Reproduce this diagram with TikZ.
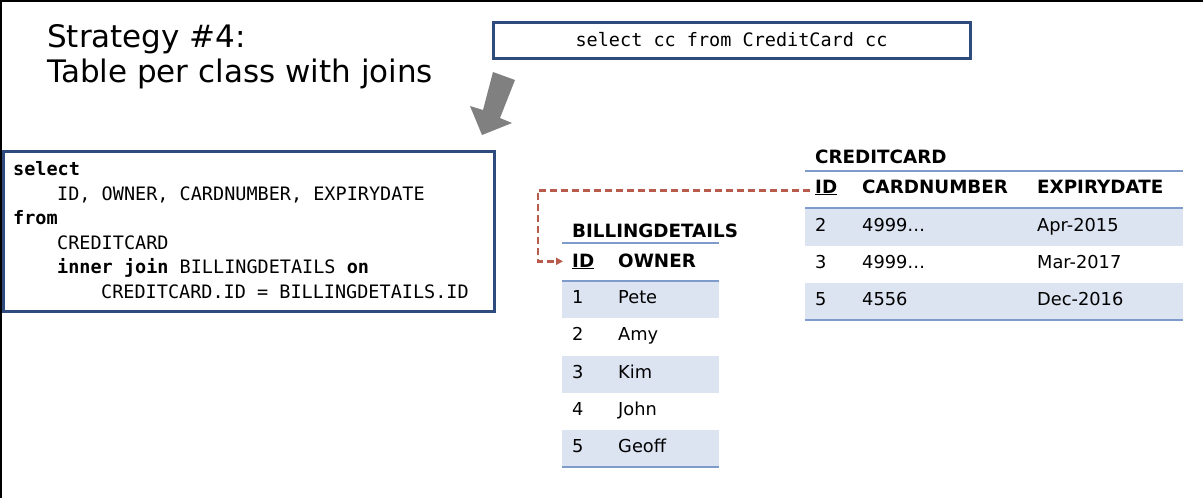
\documentclass[tikz,border=0pt]{standalone}
\usepackage{fontspec}
\setmainfont{DejaVu Sans}
\setmonofont{DejaVu Sans Mono}
\usepackage{tikz}
\usetikzlibrary{positioning, arrows.meta}
\usepackage{xcolor}

\definecolor{framecol}{HTML}{2F4A7C}
\definecolor{rulecol}{HTML}{7F9BCC}
\definecolor{rowcol}{HTML}{DCE3F1}
\definecolor{keycol}{HTML}{B85A4C}
\definecolor{pointcol}{HTML}{808080}

\tikzset{
  heading/.style={anchor=base west, inner sep=0pt, font=\fontsize{31}{35}\selectfont},
  code/.style={anchor=base west, inner sep=0pt, font=\ttfamily\fontsize{18.5}{24}\selectfont},
  cell/.style={anchor=base west, inner sep=0pt, font=\fontsize{17.8}{20}\selectfont},
  colhead/.style={anchor=base west, inner sep=0pt, font=\bfseries\fontsize{18.3}{20}\selectfont},
  codebox/.style={draw=framecol, line width=3pt, inner sep=0pt},
  thinrule/.style={draw=rulecol, line width=1.3pt},
  thickrule/.style={draw=rulecol, line width=2pt},
  shaded/.style={fill=rowcol, draw=none},
  fkarrow/.style={draw=keycol, line width=2.7pt, dash pattern=on 7pt off 4pt,
    -{Triangle[length=7pt, width=7pt]}}
}

\begin{document}
\begin{tikzpicture}[x=1pt, y=-1pt]
\useasboundingbox (0,0) rectangle (1203,498);
\draw[line width=2pt] (1,498) -- (1,1) -- (1203,1);

% Title
\node[heading] (title1) at (47,47) {Strategy \#4:};
\node[heading] (title2) at (47,82) {Table per class with joins};

% JPQL query
\node[codebox, minimum width=477pt, minimum height=36pt,
  font=\ttfamily\fontsize{18.5}{24}\selectfont] (query) at (731.5,40)
  {select cc from CreditCard cc};

% Pointer arrow
\fill[pointcol] (493,72) -- (515,80) -- (500,118) -- (512,123)
  -- (482,135) -- (470,106) -- (483,110) -- cycle;

% Generated SQL
\node[codebox, anchor=north west, minimum width=491pt, minimum height=160pt] (sqlbox) at (2,150) {};
\node[code] (sql1) at (13,175) {\textbf{select}};
\node[code] (sql2) at (57,200) {ID, OWNER, CARDNUMBER, EXPIRYDATE};
\node[code] (sql3) at (13,224) {\textbf{from}};
\node[code] (sql4) at (57,249) {CREDITCARD};
\node[code] (sql5) at (57,273) {\textbf{inner join} BILLINGDETAILS \textbf{on}};
\node[code] (sql6) at (101,298) {CREDITCARD.ID = BILLINGDETAILS.ID};

% BILLINGDETAILS table
\fill[shaded] (562,281) rectangle (719,318);
\fill[shaded] (562,356) rectangle (719,393);
\fill[shaded] (562,430) rectangle (719,467);
\draw[thinrule] (562,243) -- (719,243);
\draw[thickrule] (562,281) -- (719,281);
\draw[thickrule] (562,467) -- (719,467);
\node[colhead] (bdtitle) at (572,237) {BILLINGDETAILS};
\node[colhead] (bdid) at (572,267) {\underline{ID}};
\node[colhead] (bdowner) at (618,267) {OWNER};
\node[cell] (bd1) at (572,303) {1}; \node[cell] (bdo1) at (618,303) {Pete};
\node[cell] (bd2) at (572,340) {2}; \node[cell] (bdo2) at (618,340) {Amy};
\node[cell] (bd3) at (572,378) {3}; \node[cell] (bdo3) at (618,378) {Kim};
\node[cell] (bd4) at (572,415) {4}; \node[cell] (bdo4) at (618,415) {John};
\node[cell] (bd5) at (572,452) {5}; \node[cell] (bdo5) at (618,452) {Geoff};

% CREDITCARD table
\fill[shaded] (805,208) rectangle (1183,246);
\fill[shaded] (805,283) rectangle (1183,320);
\draw[thinrule] (805,171) -- (1183,171);
\draw[thickrule] (805,208) -- (1183,208);
\draw[thickrule] (805,320) -- (1183,320);
\node[colhead] (cctitle) at (815,163) {CREDITCARD};
\node[colhead] (ccid) at (815,193) {\underline{ID}};
\node[colhead] (ccnum) at (862,193) {CARDNUMBER};
\node[colhead] (ccexp) at (1037,193) {EXPIRYDATE};
\node[cell] (cc1) at (815,231) {2}; \node[cell] (ccn1) at (862,231) {4999…}; \node[cell] (cce1) at (1037,231) {Apr-2015};
\node[cell] (cc2) at (815,268) {3}; \node[cell] (ccn2) at (862,268) {4999…}; \node[cell] (cce2) at (1037,268) {Mar-2017};
\node[cell] (cc3) at (815,305) {5}; \node[cell] (ccn3) at (862,305) {4556}; \node[cell] (cce3) at (1037,305) {Dec-2016};

% Foreign key
\coordinate (fkbend) at ([xshift=-34pt]bdid.west);
\draw[fkarrow] ([xshift=-5pt, yshift=-3pt]ccid.west) -| (fkbend) -- ([xshift=-9pt]bdid.west);
\end{tikzpicture}
\end{document}
